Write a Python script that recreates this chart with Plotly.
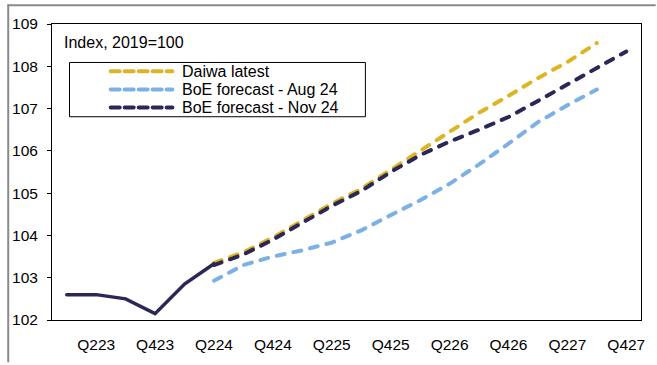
import plotly.graph_objects as go

# Quarterly categories, Q1 2023 to Q4 2027
quarters = [f"Q{q}{y}" for y in (23, 24, 25, 26, 27) for q in (1, 2, 3, 4)]

# Outturn (history) up to Q2 2024
history_q = quarters[0:6]
history = [102.6, 102.6, 102.5, 102.15, 102.85, 103.33]

# Forecast paths, Index 2019=100
daiwa_q = quarters[5:19]
daiwa = [103.35, 103.6, 103.95, 104.35, 104.75, 105.1, 105.55, 106.0,
         106.45, 106.9, 107.3, 107.72, 108.1, 108.55]

aug_q = quarters[5:19]
aug = [102.93, 103.3, 103.5, 103.65, 103.83, 104.12, 104.48, 104.83,
       105.22, 105.68, 106.17, 106.68, 107.08, 107.45]

nov_q = quarters[5:20]
nov = [103.3, 103.55, 103.9, 104.3, 104.7, 105.05, 105.5, 105.9,
       106.22, 106.5, 106.8, 107.18, 107.57, 107.97, 108.35]

series_names = ["Daiwa latest", "BoE forecast - Aug 24", "BoE forecast - Nov 24"]
series_colors = ["#DDB424", "#7DB1E6", "#2B2858"]

y_ticks = [102, 103, 104, 105, 106, 107, 108, 109]
x_ticks = quarters[1::2]

FONT = "Liberation Sans, Arial, sans-serif"
DASH = "8px,9px"

fig = go.Figure()

fig.add_trace(go.Scatter(x=daiwa_q, y=daiwa, mode="lines", name=series_names[0],
                         line=dict(color=series_colors[0], width=4, dash=DASH),
                         showlegend=False))
fig.add_trace(go.Scatter(x=aug_q, y=aug, mode="lines", name=series_names[1],
                         line=dict(color=series_colors[1], width=4, dash=DASH),
                         showlegend=False))
fig.add_trace(go.Scatter(x=nov_q, y=nov, mode="lines", name=series_names[2],
                         line=dict(color=series_colors[2], width=4, dash=DASH),
                         showlegend=False))
fig.add_trace(go.Scatter(x=history_q, y=history, mode="lines", name="Outturn",
                         line=dict(color=series_colors[2], width=3.5),
                         showlegend=False))

# plot area geometry in pixels (for the boxed key)
W, H = 657, 365
L, R, T, B = 51, 14, 24, 41
pw, ph = W - L - R, H - T - B


def px_x(v):
    return (v - L) / pw


def px_y(v):
    return (H - B - v) / ph


shapes = []
annotations = []

# boxed key
shapes.append(dict(type="rect", xref="paper", yref="paper",
                   x0=px_x(69), x1=px_x(366), y0=px_y(118), y1=px_y(63),
                   line=dict(color="black", width=1), fillcolor="white", layer="above"))
for i, (name, col) in enumerate(zip(series_names, series_colors)):
    yy = 72 + i * 18.3
    shapes.append(dict(type="line", xref="paper", yref="paper",
                       x0=px_x(110), x1=px_x(172), y0=px_y(yy), y1=px_y(yy),
                       line=dict(color=col, width=4, dash="9px,5px"), layer="above"))
    annotations.append(dict(text=name, xref="paper", yref="paper",
                            x=px_x(180), y=px_y(yy), xanchor="left", yanchor="middle",
                            showarrow=False, font=dict(family=FONT, size=16, color="black")))

annotations.append(dict(text="Index, 2019=100", xref="paper", yref="paper",
                        x=px_x(61), y=px_y(43), xanchor="left", yanchor="middle",
                        showarrow=False, font=dict(family=FONT, size=16, color="black")))

# outer frame lines (top and left)
shapes.append(dict(type="line", xref="paper", yref="paper",
                   x0=px_x(7), x1=px_x(657), y0=px_y(5), y1=px_y(5),
                   line=dict(color="#8a8a8a", width=2)))
shapes.append(dict(type="line", xref="paper", yref="paper",
                   x0=px_x(7), x1=px_x(7), y0=px_y(5), y1=px_y(366),
                   line=dict(color="#8a8a8a", width=2)))

fig.update_layout(
    width=W, height=H,
    margin=dict(l=L, r=R, t=T, b=B, pad=0),
    paper_bgcolor="white", plot_bgcolor="white",
    font=dict(family=FONT, size=15, color="black"),
    shapes=shapes, annotations=annotations,
    showlegend=False,
)

fig.update_xaxes(type="category", categoryorder="array", categoryarray=quarters,
                 range=[-0.5, len(quarters) - 0.5],
                 tickmode="array", tickvals=x_ticks, ticktext=x_ticks,
                 showgrid=False, zeroline=False,
                 showline=True, linecolor="black", linewidth=1, mirror=True,
                 ticks="", ticklabelstandoff=10,
                 tickfont=dict(family=FONT, size=15.5, color="black"))

fig.update_yaxes(range=[102, 109], tickmode="array", tickvals=y_ticks,
                 showgrid=False, zeroline=False,
                 showline=True, linecolor="black", linewidth=1, mirror=True,
                 ticks="outside", ticklen=4, tickcolor="black",
                 ticklabelstandoff=6,
                 tickfont=dict(family=FONT, size=15.5, color="black"))

# rounded ends on the dashed strokes
round_caps = """
var gd = document.querySelector('.plotly-graph-div');
function roundCaps() {
  gd.querySelectorAll('path.js-line, .shapelayer path').forEach(function (p) {
    p.style.strokeLinecap = 'round';
  });
}
roundCaps();
gd.on('plotly_afterplot', roundCaps);
"""

fig.write_html("out.html", config={"displayModeBar": False}, post_script=round_caps)
